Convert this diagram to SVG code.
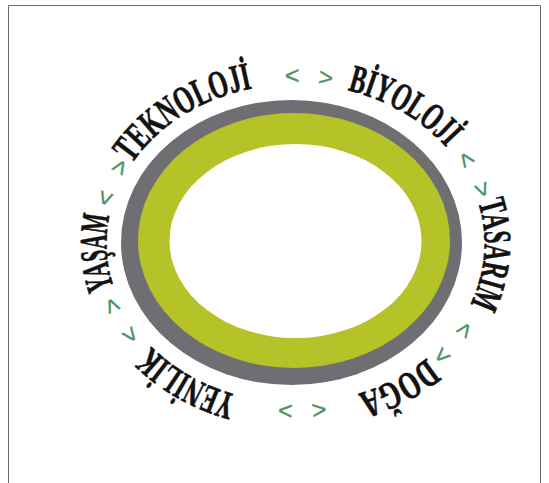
<svg xmlns="http://www.w3.org/2000/svg" xmlns:xlink="http://www.w3.org/1999/xlink" width="549" height="483" viewBox="0 0 549 483">
<style>
.word{font-family:"Liberation Serif","Times New Roman",serif;font-weight:bold;font-size:39px;fill:#121212;stroke:#121212;stroke-width:0.7}
.sep{font-family:"Liberation Sans",Arial,sans-serif;font-size:25px;fill:#4d9462;stroke:#4d9462;stroke-width:0.4;word-spacing:11px}
.frame{fill:none;stroke:#6a6a6a;stroke-width:1}
</style>
<defs>
<path id="pTek" d="M131.8,163.75 A189,159.5 0 0 1 272.5,85.2"/>
<path id="pBiy" d="M347.6,90.2 A189,159.5 0 0 1 459.2,163.75"/>
<path id="pTas" d="M478.1,202.2 A189,159.5 0 0 1 459.2,323.25"/>
<path id="pDog" d="M426.8,358.2 A189,159.5 0 0 1 338,398.9"/>
<path id="pYen" d="M237.1,395.2 A189,159.5 0 0 1 138.8,332.7"/>
<path id="pYas" d="M113.8,287.5 A189,159.5 0 0 1 114.8,196.9"/>
<path id="s1" d="M259.4,86.9 A189,159.5 0 0 1 357,92.7"/>
<path id="s2" d="M442.4,143.1 A189,159.5 0 0 1 482.2,218.5"/>
<path id="s3" d="M471.9,300.7 A189,159.5 0 0 1 414.4,367.5"/>
<path id="s4" d="M350.8,396 A189,159.5 0 0 1 253,398.9"/>
<path id="s5" d="M155,350.2 A189,159.5 0 0 1 110.6,276.7"/>
<path id="s6" d="M107.5,226.8 A189,159.5 0 0 1 142.6,149.7"/>
</defs>
<rect width="549" height="483" fill="#ffffff"/>
<path class="frame" d="M8.5,483 V5.5 H540.5 V483"/>
<g id="ring">
<ellipse cx="291.5" cy="242.5" rx="170.5" ry="142.5" fill="#6f6f73"/>
<ellipse cx="294" cy="240.5" rx="156" ry="127.5" fill="#b5c228"/>
<ellipse cx="295.5" cy="241" rx="126" ry="97" fill="#ffffff"/>
</g>
<g id="teknoloji"><text class="word"><textPath href="#pTek" textLength="146" lengthAdjust="spacingAndGlyphs">TEKNOLOJİ</textPath></text></g>
<g id="biyoloji"><text class="word"><textPath href="#pBiy" textLength="116" lengthAdjust="spacingAndGlyphs">BİYOLOJİ</textPath></text></g>
<g id="tasarim"><text class="word"><textPath href="#pTas" textLength="105" lengthAdjust="spacingAndGlyphs">TASARIM</textPath></text></g>
<g id="doga"><text class="word"><textPath href="#pDog" textLength="78" lengthAdjust="spacingAndGlyphs">DOĞA</textPath></text></g>
<g id="yenilik"><text class="word"><textPath href="#pYen" textLength="100" lengthAdjust="spacingAndGlyphs">YENİLİK</textPath></text></g>
<g id="yasam"><text class="word"><textPath href="#pYas" textLength="73" lengthAdjust="spacingAndGlyphs">YAŞAM</textPath></text></g>
<g id="connectors">
<text class="sep" text-anchor="middle"><textPath href="#s1" startOffset="50%">&lt; &gt;</textPath></text>
<text class="sep" text-anchor="middle"><textPath href="#s2" startOffset="50%">&lt; &gt;</textPath></text>
<text class="sep" text-anchor="middle"><textPath href="#s3" startOffset="50%">&lt; &gt;</textPath></text>
<text class="sep" text-anchor="middle"><textPath href="#s4" startOffset="50%">&lt; &gt;</textPath></text>
<text class="sep" text-anchor="middle"><textPath href="#s5" startOffset="50%">&lt; &gt;</textPath></text>
<text class="sep" text-anchor="middle"><textPath href="#s6" startOffset="50%">&lt; &gt;</textPath></text>
</g>
</svg>
